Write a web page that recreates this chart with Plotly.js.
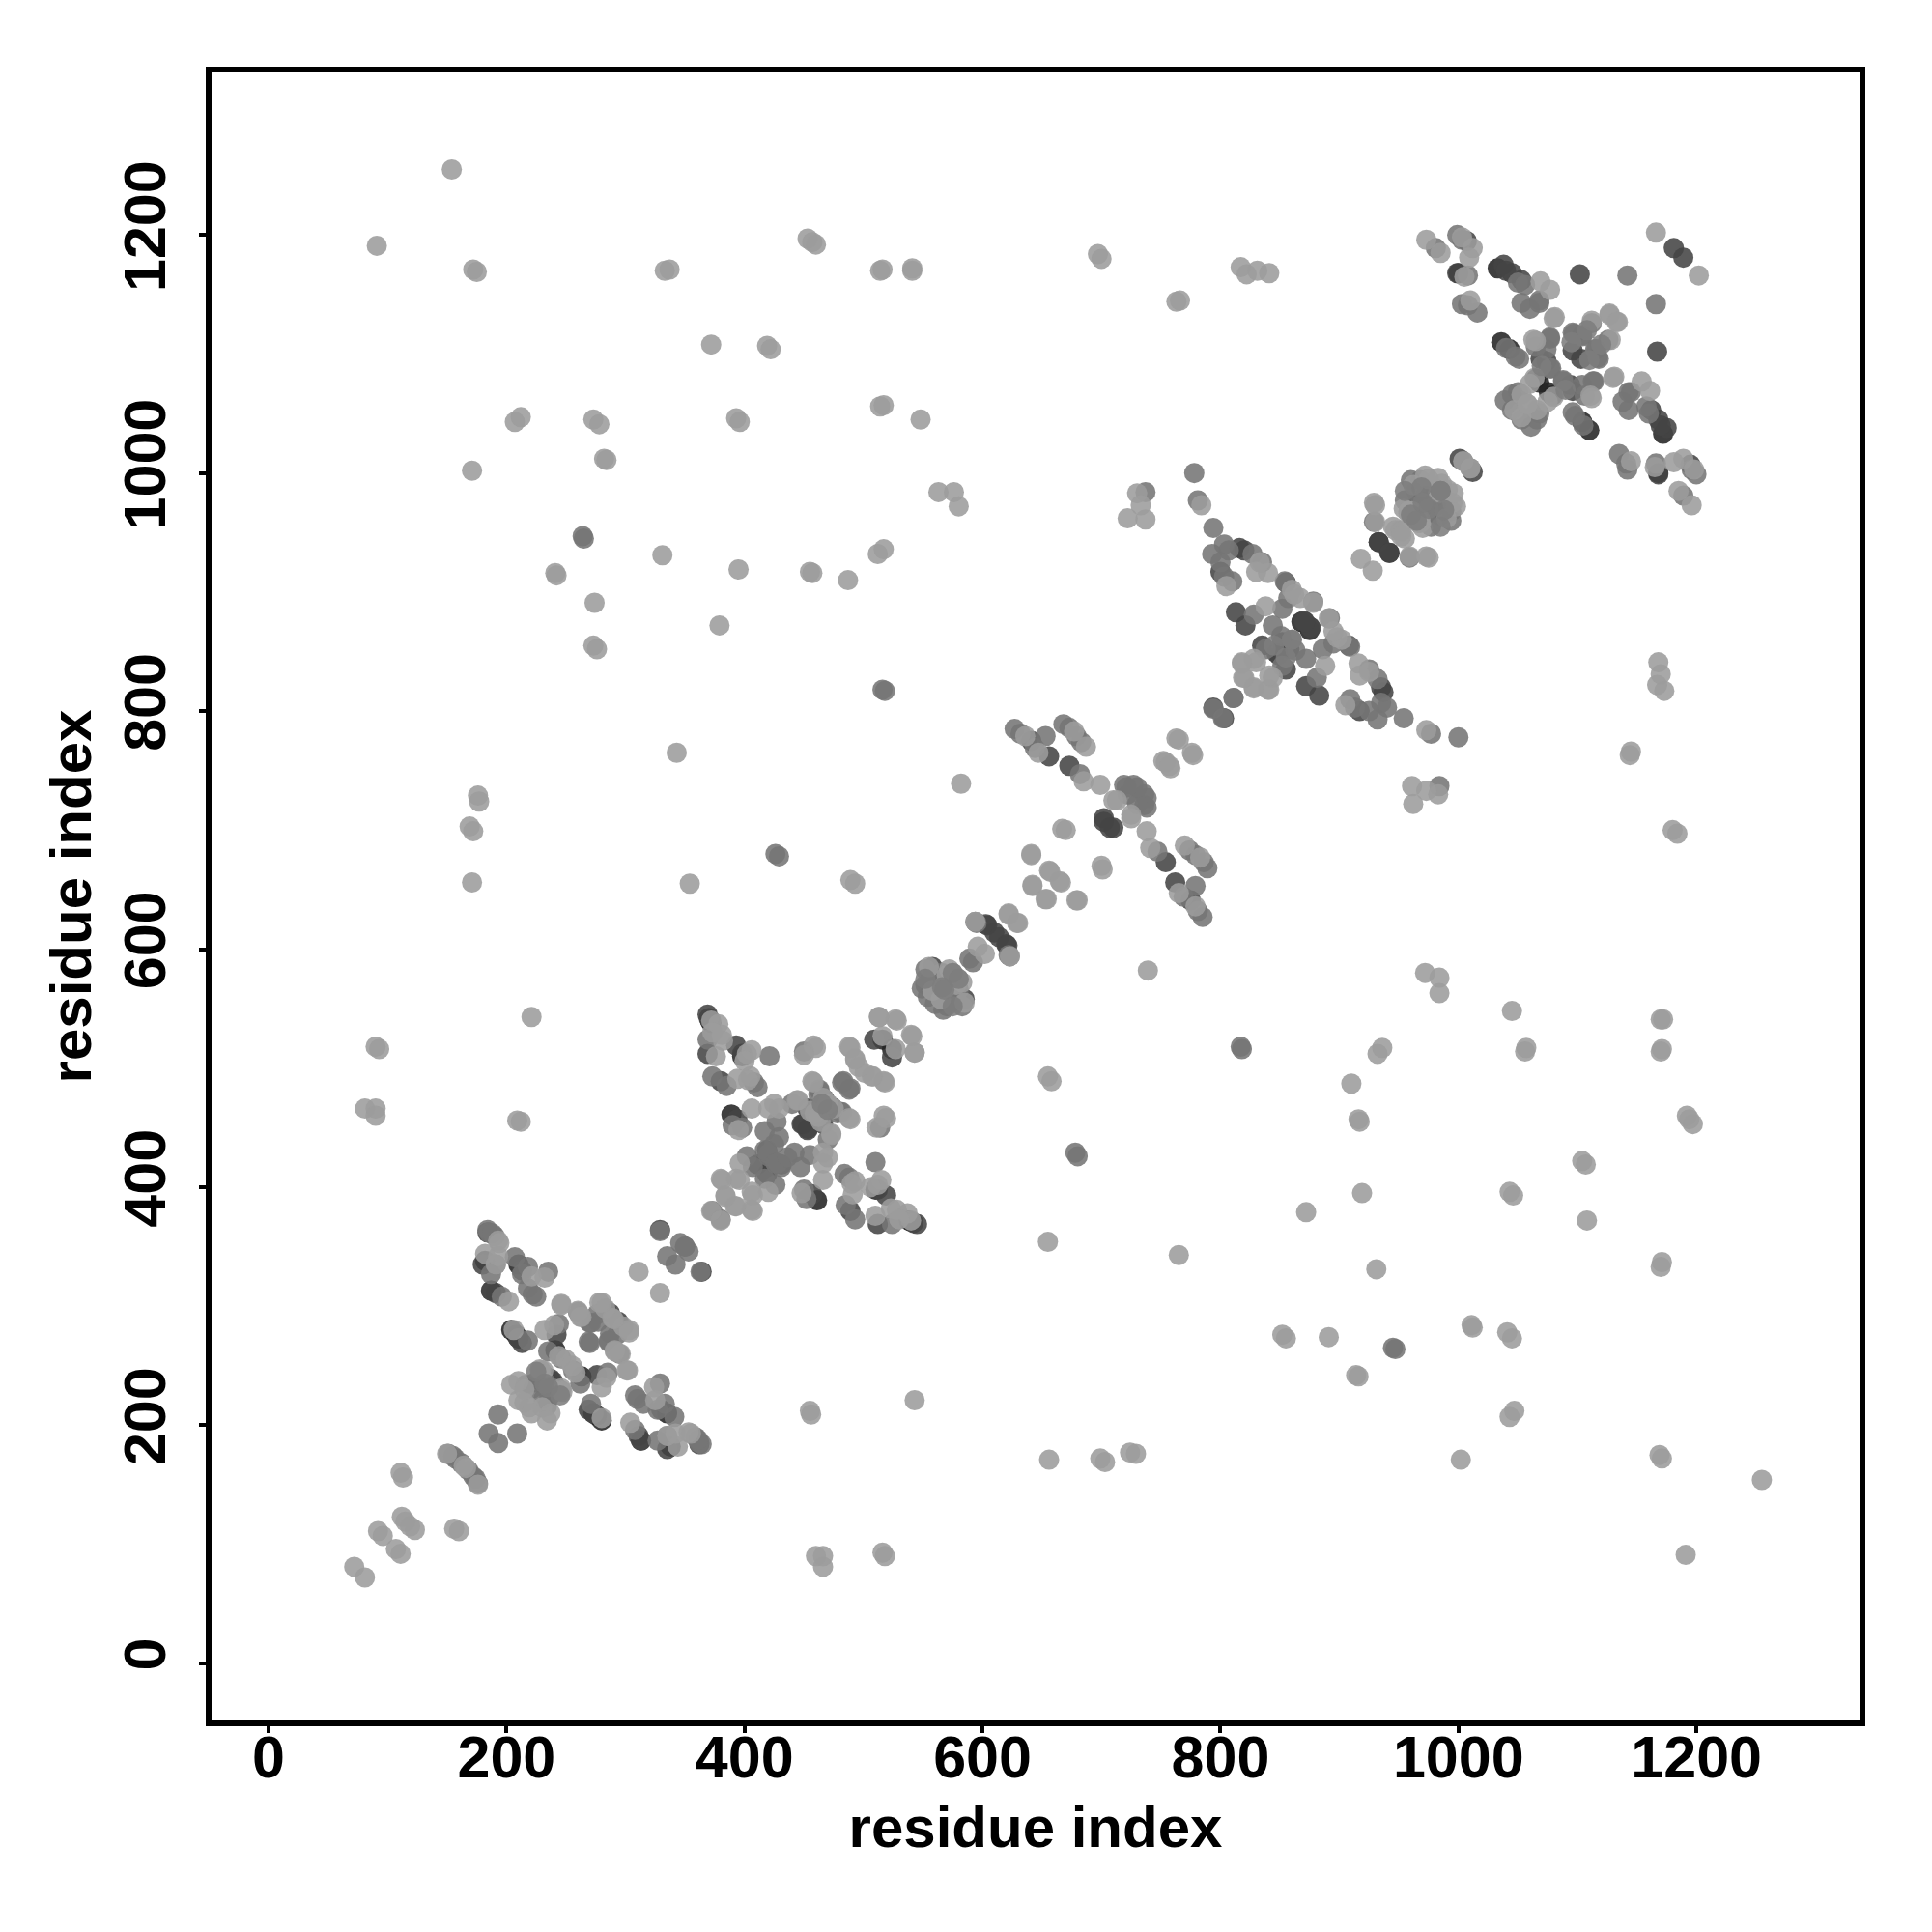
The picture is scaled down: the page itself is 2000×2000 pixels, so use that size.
<!DOCTYPE html>
<html><head><meta charset="utf-8">
<script src="https://cdn.plot.ly/plotly-3.0.1.min.js"></script>
<style>html,body{margin:0;padding:0;background:#fff}</style></head>
<body><div id="chart" style="width:2000px;height:2000px"></div>
<script>
// contact pairs (residue i < residue j); the map is symmetric
const lightI=[154,91,172,175,333,337,453,457,460,514,516,541,541,697,700,763,766,817,822,831,841,372,419,422,514,517,548,207,212,273,278,393,396,171,282,284,563,576,580,331,241,242,395,455,457,487,512,517,274,379,273,276,343,582,176,177,169,172,171,354,489,493,81,90,90,90,93,209,212,221,
 72,92,96,112,115,111,113,150,164,
 193,194,182,191,193,221,232,202,246,232,244,260,263,278,303,289,298,291,250,229,210,219,246,204,230,228,210,206,240,246,311,
 378,381,382,406,376,394,405,406,420,429,396,380,393,406,384,392,406,372,458,488,493,501,508,517,513,527,527,540,543,457,444,475,488,464,473,517,511,372,373,402,400,403,425,395,470,459,
 555,570,575,572,558,566,594,596,622,622,642,641,642,656,657,641,667,670,
 685,699,710,725,763,765,752,754,730,722,737,733,784,636,647,677,687,
 840,830,860,867,891,898,838,818,830,844,820,828,840,805,833,
 929,951,918,930,930,945,947,972,986,958,954,966,961,975,983,962,984,968,1004,
 973,1012,1009,1069,1077,1080,1063,1127,1127,1112,1053,1047,1058,1064,1065,1081,1005,1010,1060,1003,985,1166];
const lightJ=[1255,1191,1171,1169,1170,1171,1197,1194,1192,1170,1171,1170,1172,1184,1180,1144,1145,1173,1167,1170,1168,1108,1107,1104,1056,1057,1045,1043,1047,1045,1041,1046,1043,1002,1012,1011,984,984,972,931,916,914,919,917,916,910,932,936,891,872,855,852,765,739,729,724,703,699,656,655,658,655,466,466,460,518,516,456,455,543,
 81,111,107,123,119,160,156,176,166,
 355,353,344,335,342,325,324,304,302,280,258,296,291,303,280,290,283,262,255,246,237,215,231,234,215,247,221,280,284,301,329,
 537,528,523,515,510,491,493,466,466,466,420,407,407,396,393,384,381,380,519,518,507,496,493,489,543,541,516,528,513,489,473,466,458,455,445,460,450,540,530,512,506,490,470,448,470,462,
 585,578,580,583,565,568,623,602,630,629,653,679,654,666,665,680,701,700,
 741,738,725,713,777,776,758,757,983,962,961,973,973,779,765,783,770,
 916,917,902,895,878,862,888,841,841,828,828,819,818,905,925,
 975,952,928,959,973,955,952,998,991,966,970,962,968,995,996,990,983,958,1010,
 1196,1189,1181,1161,1154,1130,1112,1133,1134,1128,1066,1053,1058,1080,1111,1131,1165,1145,1075,1198,1185,1202];
const midI=[264,265,426,429,516,518,778,781,
 185,193,184,185,190,188,187,191,207,213,218,235,196,222,225,218,218,244,235,270,270,286,295,276,287,246,216,222,232,236,329,346,350,335,151,155,157,162,
 421,369,373,385,408,411,398,427,429,417,431,402,420,417,380,450,483,488,463,481,420,425,440,462,390,
 552,566,552,562,549,565,554,594,595,589,737,
 627,632,644,653,668,673,679,683,682,719,727,722,736,736,
 794,803,827,793,810,803,828,854,878,852,844,851,852,811,794,807,835,800,857,
 929,960,968,955,980,964,972,1004,
 981,999,1003,1008,1003,1008,1016,1053,1060,1068,1142,1051,1077,1065,1074,1096,1104,1112,1104,1097,1078,1077,1045,1050,1045,1039,1077,1068,1050,1056,1040,1048];
const midJ=[947,945,680,678,818,817,1000,977,
 193,209,364,362,359,361,327,335,341,327,315,329,308,310,308,333,271,285,262,286,269,271,260,293,277,256,234,231,237,224,363,353,350,342,176,174,172,168,
 510,524,493,485,488,484,450,455,442,447,417,426,426,407,373,514,489,482,482,463,428,436,470,478,452,
 583,580,570,578,567,573,560,623,622,592,984,
 785,781,769,779,789,786,779,774,747,738,738,730,730,721,
 954,940,932,932,909,913,881,909,892,886,872,863,838,811,802,935,925,925,895,
 959,994,994,977,987,985,975,1010,
 1189,1200,1196,1166,1142,1141,1135,1143,1138,1145,1166,1096,1114,1106,1104,1118,1115,1126,1116,1117,1088,1088,1066,1068,1053,1061,1113,1143,1160,1158,1105,1098];
const darkI=[184,180,187,213,187,191,213,210,210,242,233,239,284,294,329,
 369,370,393,398,369,380,394,419,411,448,453,467,453,509,
 558,561,556,560,604,610,603,
 641,656,673,702,702,
 816,800,813,821,908,870,875,835,847,858,794,820,
 933,966,972,976,1001,
 999,1038,1045,1053,1181,1102,1069,1096,1074,1040,1007];
const darkJ=[362,335,313,330,313,311,269,273,273,276,241,237,296,287,364,
 545,542,519,512,512,489,457,431,419,453,449,474,466,524,
 585,572,575,565,620,614,621,
 775,762,754,710,707,
 937,917,883,872,855,876,871,855,849,852,803,935,
 942,975,981,978,1012,
 1168,1175,1168,1162,1189,1167,1096,1103,1094,1170,1195];
const blackI=[182,210,204,208,241,389,516,933,1036,1043,1065,1068,371,372,398,1033,1000,875];
const blackJ=[338,335,280,276,263,461,524,942,1110,1104,1079,1076,540,538,510,1172,1168,868];
// mid-grey marks that lie on top of the light ones in the dense knots
const topI=[232,225,470,552,566,575,955,985,975,969,960,860,845,1095,1108,1070];
const topJ=[235,245,465,575,568,580,985,985,970,988,965,860,855,1110,1120,1090];

const grays=['#242424','#444444','#757575','#9c9c9c','#7d7d7d'];
const groups=[[blackI,blackJ],[darkI,darkJ],[midI,midJ],[lightI,lightJ],[topI,topJ]];
const traces=groups.map(([a,b],k)=>({
  type:'scatter',mode:'markers',x:a.concat(b),y:b.concat(a),
  marker:{color:grays[k],size:21,opacity:0.88,line:{width:0}},
  hoverinfo:'skip',showlegend:false
}));
const tickVals=[0,200,400,600,800,1000,1200];
const font={family:'"Liberation Sans",Arial,sans-serif',size:60,color:'#000',weight:700};
const tickFont=Object.assign({},font,{size:61});
const axis=(range,standoff,labelOff)=>({
  range:range,tickmode:'array',tickvals:tickVals,ticktext:tickVals.map(String),
  ticks:'outside',ticklen:7,tickwidth:4,tickcolor:'#000',ticklabelstandoff:labelOff,
  showline:true,mirror:true,linecolor:'#000',linewidth:6,
  showgrid:false,zeroline:false,tickfont:tickFont,
  title:{text:'residue index',font:font,standoff:standoff},automargin:false
});
const layout={
  width:2000,height:2000,margin:{l:219,r:75,t:75,b:219},
  paper_bgcolor:'#fff',plot_bgcolor:'#fff',showlegend:false,
  xaxis:axis([-47.9,1337.1],20,-27),
  yaxis:Object.assign(axis([-48.1,1336.6],4,11),{tickangle:-90})
};
Plotly.newPlot('chart',traces,layout,{displayModeBar:false,staticPlot:true});
</script></body></html>
